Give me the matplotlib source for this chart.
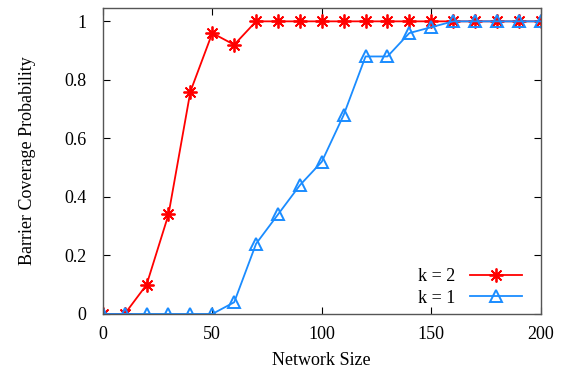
import numpy as np
import matplotlib.pyplot as plt

plt.rcParams['font.family'] = ['Liberation Serif', 'DejaVu Serif']
plt.rcParams['font.size'] = 13

# network size vs. barrier coverage probability
sizes = [0, 10, 20, 30, 40, 50, 60, 70, 80, 90, 100,
         110, 120, 130, 140, 150, 160, 170, 180, 190, 200]
prob_k2 = [0, 0, 0.10, 0.34, 0.76, 0.96, 0.92, 1, 1, 1, 1,
           1, 1, 1, 1, 1, 1, 1, 1, 1, 1]
prob_k1 = [0, 0, 0, 0, 0, 0, 0.04, 0.24, 0.34, 0.44, 0.52,
           0.68, 0.88, 0.88, 0.96, 0.98, 1, 1, 1, 1, 1]

red = '#ff0000'
blue = '#1a8cff'

fig = plt.figure(figsize=(5.68, 3.72), dpi=100)
ax = fig.add_axes([0.181, 0.156, 0.771, 0.822])

ax.plot(sizes, prob_k2, color=red, lw=1.3, marker=(8, 2, 0), ms=10, mew=1.3,
        label='k = 2')
ax.plot(sizes, prob_k1, color=blue, lw=1.3, marker='^', ms=9, mew=1.4,
        mfc='none', label='k = 1')

ax.set_xlim(0, 200)
ax.set_ylim(0, 1.045)
ax.set_xticks([0, 50, 100, 150, 200])
ax.set_yticks([0, 0.2, 0.4, 0.6, 0.8, 1])
ax.set_yticklabels(['0', '0.2', '0.4', '0.6', '0.8', '1'])
ax.tick_params(direction='in', top=True, right=True, length=5, labelsize=13)
ax.tick_params(axis='x', pad=9)
ax.tick_params(axis='y', pad=12)
for s in ax.spines.values():
    s.set_color('#555555')
    s.set_linewidth(1)

ax.set_xlabel('Network Size', fontsize=13, labelpad=6)
ax.set_ylabel('Barrier Coverage Probability', fontsize=13, labelpad=20)

ax.legend(loc='lower right', markerfirst=False, frameon=False, fontsize=13,
          handlelength=2.9, labelspacing=0.25, handletextpad=0.8,
          borderaxespad=0.0, bbox_to_anchor=(0.974, 0.0))

fig.savefig('out.png', dpi=100)
